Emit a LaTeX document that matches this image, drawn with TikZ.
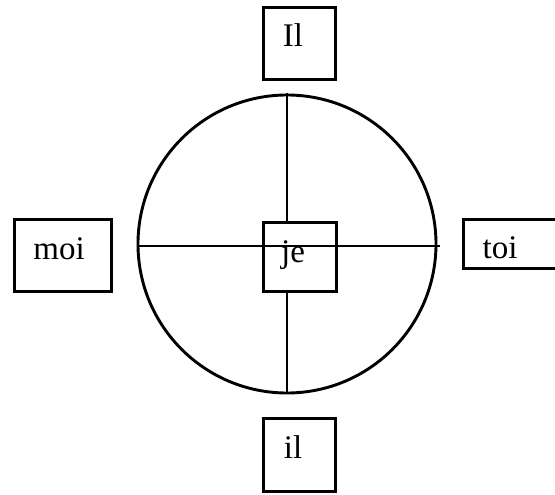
\documentclass[tikz,border=0pt]{standalone}
\usepackage{fontspec}
\setmainfont{Liberation Serif}
\begin{document}
\begin{tikzpicture}[x=1pt,y=-1pt,
  ln/.style={line width=2.9pt},
  boxnode/.style={draw,line width=2.9pt,inner sep=0pt},
  lbl/.style={anchor=base,inner sep=0pt,font=\fontsize{33}{39}\selectfont}]
\clip (0,0) rectangle (555,495);
\coordinate (c) at (287,244);
\coordinate (vt) at (287,93);
\coordinate (vb) at (287,393);
\coordinate (hl) at (137,246);
\coordinate (hr) at (440,246);
\draw[ln] (c) circle[radius=149];
\draw[ln] (vt) -- (vb);
\node[boxnode,fill=white,minimum width=73pt,minimum height=69pt] (je) at (300,257) {};
\draw[ln] (hl) -- (hr);
\node[boxnode,minimum width=72pt,minimum height=72pt] (Il) at (299.5,43.5) {};
\node[boxnode,minimum width=97pt,minimum height=72pt] (moi) at (63,255.5) {};
\node[boxnode,minimum width=103pt,minimum height=49pt] (toi) at (515,244) {};
\node[boxnode,minimum width=72pt,minimum height=73pt] (il) at (299.5,455) {};
\node[lbl] (tIl) at (293,47) {Il};
\node[lbl] (tje) at (293,262) {je};
\node[lbl] (tmoi) at (59,259) {moi};
\node[lbl] (ttoi) at (500,258) {toi};
\node[lbl] (til) at (293,458) {il};
\end{tikzpicture}
\end{document}
